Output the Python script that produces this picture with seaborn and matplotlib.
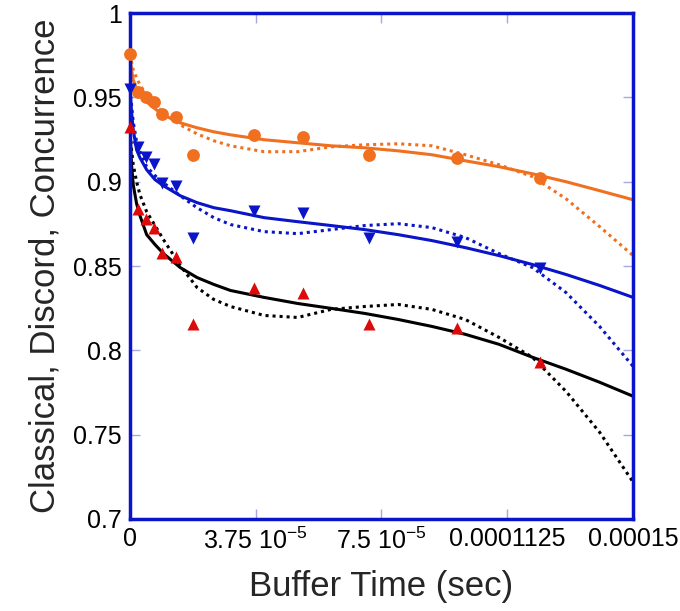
import matplotlib
matplotlib.use("Agg")
import matplotlib.pyplot as plt
import seaborn as sns

# measured points (buffer time in microseconds)
t_us = [0, 2.3, 4.8, 7.2, 9.6, 13.8, 18.8, 37.0, 51.6, 71.3, 97.5, 122.3]
concurrence_pts = [0.9757, 0.9533, 0.9503, 0.9473, 0.9402, 0.9385, 0.916, 0.9278, 0.9266, 0.916, 0.9142, 0.9024]
discord_pts = [0.955, 0.9207, 0.9148, 0.9107, 0.8994, 0.8976, 0.8669, 0.8828, 0.8817, 0.8669, 0.8645, 0.8491]
classical_pts = [0.9322, 0.884, 0.8781, 0.8728, 0.858, 0.8556, 0.8154, 0.8367, 0.8343, 0.8154, 0.813, 0.7929]

# fitted curves
fit_t_us = [0, 0.5, 1, 2, 3, 5, 7.5, 10, 15, 20, 25, 30, 40, 50, 60, 70, 80, 90, 100, 110, 120, 130, 140, 150]
concurrence_fit = [0.9757, 0.9663, 0.9604, 0.955, 0.9521, 0.9473, 0.9432, 0.9396, 0.9349, 0.932, 0.9296, 0.9278,
                   0.9249, 0.9231, 0.9213, 0.9201, 0.9183, 0.916, 0.9124, 0.9089, 0.9047, 0.9, 0.8947, 0.8893]
concurrence_fit2 = [0.9757, 0.971, 0.9663, 0.9615, 0.9574, 0.9515, 0.9456, 0.9408, 0.9337, 0.9284, 0.9243, 0.9213,
                    0.9178, 0.9178, 0.9207, 0.9219, 0.9225, 0.9213, 0.916, 0.9101, 0.903, 0.8899, 0.8734, 0.8562]
discord_fit = [0.955, 0.9414, 0.9308, 0.9189, 0.9142, 0.9071, 0.9012, 0.8976, 0.8917, 0.8876, 0.8846, 0.8828,
               0.8787, 0.8763, 0.874, 0.8716, 0.8686, 0.8651, 0.8609, 0.8562, 0.8509, 0.845, 0.8385, 0.8314]
discord_fit2 = [0.955, 0.9456, 0.9355, 0.9237, 0.9178, 0.9089, 0.9036, 0.8994, 0.8917, 0.8846, 0.8787, 0.8746,
                0.8704, 0.8692, 0.8716, 0.874, 0.8751, 0.8728, 0.8669, 0.8574, 0.8491, 0.8343, 0.8142, 0.7905]
classical_fit = [0.9325, 0.9101, 0.8982, 0.887, 0.8799, 0.8686, 0.8627, 0.8574, 0.8491, 0.8432, 0.8391, 0.8355,
                 0.8314, 0.8278, 0.8249, 0.8219, 0.8183, 0.8142, 0.8095, 0.8036, 0.7959, 0.7888, 0.7811, 0.7728]
classical_fit2 = [0.9325, 0.9189, 0.9101, 0.9, 0.8923, 0.8822, 0.874, 0.8657, 0.8503, 0.8373, 0.8302, 0.826,
                  0.8207, 0.8195, 0.8243, 0.826, 0.8272, 0.8243, 0.8183, 0.8077, 0.7959, 0.7757, 0.7515, 0.7219]

x_ticks = [0, 3.75e-5, 7.5e-5, 1.125e-4, 1.5e-4]
x_ticklabels = ["0", "3.75 10$^{-5}$", "7.5 10$^{-5}$", "0.0001125", "0.00015"]
y_ticks = [0.7, 0.75, 0.8, 0.85, 0.9, 0.95, 1.0]
y_ticklabels = ["0.7", "0.75", "0.8", "0.85", "0.9", "0.95", "1"]

ORANGE = "#F07020"
BLUE = "#0A14C8"
RED = "#DD0A0A"

sns.set_theme(style="white")
plt.rcParams["font.family"] = ["Liberation Sans", "DejaVu Sans"]
plt.rcParams["mathtext.fontset"] = "custom"
plt.rcParams["mathtext.rm"] = "Liberation Sans"
plt.rcParams["mathtext.it"] = "Liberation Sans"
plt.rcParams["mathtext.default"] = "regular"

fig = plt.figure(figsize=(6.8, 6.11), dpi=100)
ax = fig.add_axes([0.191, 0.1506, 0.74, 0.828])

t = [v * 1e-6 for v in t_us]
ft = [v * 1e-6 for v in fit_t_us]
dots = (0, (1, 1.3))

for fit, fit2, col in [(concurrence_fit, concurrence_fit2, ORANGE),
                       (discord_fit, discord_fit2, BLUE),
                       (classical_fit, classical_fit2, "black")]:
    sns.lineplot(x=ft, y=fit, color=col, linewidth=2.2, ax=ax, zorder=2)
    sns.lineplot(x=ft, y=fit2, color=col, linewidth=2.2, linestyle=dots, ax=ax, zorder=2)

sns.scatterplot(x=t, y=concurrence_pts, color=ORANGE, marker="o", s=85, linewidth=0, ax=ax, zorder=5, clip_on=False)
sns.scatterplot(x=t, y=discord_pts, color=BLUE, marker="v", s=75, linewidth=0, ax=ax, zorder=5, clip_on=False)
sns.scatterplot(x=t, y=classical_pts, color=RED, marker="^", s=75, linewidth=0, ax=ax, zorder=5, clip_on=False)

ax.set_xlim(0, 1.5e-4)
ax.set_ylim(0.7, 1.0)
ax.set_xticks(x_ticks)
ax.set_xticklabels(x_ticklabels)
ax.set_yticks(y_ticks)
ax.set_yticklabels(y_ticklabels)
ax.tick_params(direction="in", length=7, width=1, color="#A8A8E0", labelsize=18,
               labelcolor="black", top=True, right=True, bottom=True, left=True, pad=6)

for s in ax.spines.values():
    s.set_color(BLUE)
    s.set_linewidth(2.5)

ax.set_xlabel("Buffer Time (sec)", fontsize=25, labelpad=12)
ax.set_ylabel("Classical, Discord, Concurrence", fontsize=25, labelpad=8)

fig.savefig("out.png", dpi=100)
